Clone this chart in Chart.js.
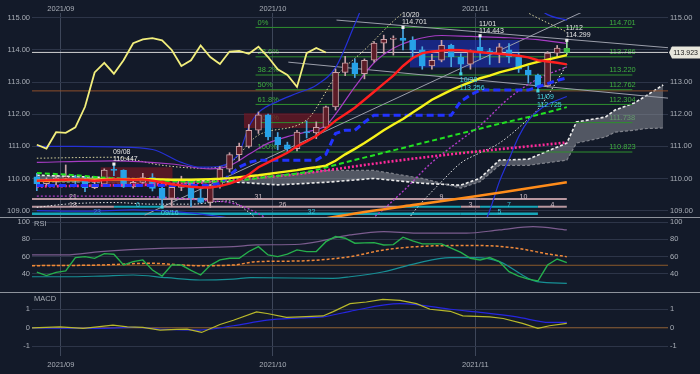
<!DOCTYPE html>
<html lang="ja">
<head>
<meta charset="UTF-8" />
<title>USD/JPY 日足</title>
<style>
  body { margin: 0; background: #131a29; }
  #wrap { position: relative; width: 700px; height: 374px; background: #131a29; overflow: hidden; }
  .pane { position: absolute; left: 0; width: 700px; }
  .pane canvas { display: block; }
  .sep { position: absolute; left: 0; width: 700px; height: 1px; background: #8e939c; }
</style>
</head>
<body>
<div id="wrap">
  <div class="pane" style="top:0;height:217px"><canvas id="mainChart" width="700" height="217"></canvas></div>
  <div class="pane" style="top:217px;height:75px"><canvas id="rsiChart" width="700" height="75"></canvas></div>
  <div class="pane" style="top:292px;height:82px"><canvas id="macdChart" width="700" height="82"></canvas></div>
  <div class="sep" style="top:217px"></div>
  <div class="sep" style="top:292px"></div>
</div>

<script src="https://cdn.jsdelivr.net/npm/chart.js"></script>
<script>
// trading days (last 10 are future slots used by the cloud)
const dates = [
  '2021/08/27', '2021/08/30', '2021/08/31',
  '2021/09/01', '2021/09/02', '2021/09/03', '2021/09/06', '2021/09/07', '2021/09/08', '2021/09/09', '2021/09/10',
  '2021/09/13', '2021/09/14', '2021/09/15', '2021/09/16', '2021/09/17', '2021/09/20', '2021/09/21', '2021/09/22',
  '2021/09/23', '2021/09/24', '2021/09/27', '2021/09/28', '2021/09/29', '2021/09/30',
  '2021/10/01', '2021/10/04', '2021/10/05', '2021/10/06', '2021/10/07', '2021/10/08', '2021/10/11', '2021/10/12',
  '2021/10/13', '2021/10/14', '2021/10/15', '2021/10/18', '2021/10/19', '2021/10/20', '2021/10/21', '2021/10/22',
  '2021/10/25', '2021/10/26', '2021/10/27', '2021/10/28', '2021/10/29',
  '2021/11/01', '2021/11/02', '2021/11/03', '2021/11/04', '2021/11/05', '2021/11/08', '2021/11/09', '2021/11/10',
  '2021/11/11', '2021/11/12', '2021/11/15', '2021/11/16', '2021/11/17', '2021/11/18', '2021/11/19', '2021/11/22',
  '2021/11/23', '2021/11/24', '2021/11/25', '2021/11/26'
];

// candles
const open = [
  110.05, 109.84, 109.91, 110.01, 110.02, 109.93, 109.71, 109.82, 110.26, 110.25,
  109.74, 109.88, 110.03, 109.69, 109.38, 109.72, 109.93, 109.40, 109.25, 109.78,
  110.29, 110.74, 111.00, 111.50, 111.98, 111.29, 111.05, 110.93, 111.44, 111.42,
  111.59, 112.23, 113.30, 113.60, 113.26, 113.68, 114.21, 114.33, 114.37, 114.30,
  114.00, 113.50, 113.68, 114.14, 113.78, 113.56, 114.08, 113.97, 113.88, 114.00,
  113.78, 113.37, 113.22, 112.88, 113.90, 114.05
];
const high = [
  110.16, 110.02, 110.11, 110.42, 110.10, 110.05, 109.90, 110.30, 110.447, 110.27,
  110.00, 110.16, 110.15, 109.73, 109.84, 110.07, 109.97, 109.70, 109.82, 110.37,
  110.80, 111.10, 111.68, 112.07, 112.00, 111.43, 111.13, 111.50, 111.79, 111.76,
  112.25, 113.41, 113.80, 113.72, 113.72, 114.26, 114.46, 114.44, 114.701, 114.41,
  114.10, 113.86, 114.30, 114.18, 113.88, 114.00, 114.443, 114.05, 114.20, 114.20,
  113.90, 113.50, 113.25, 113.95, 114.14, 114.299
];
const low = [
  109.62, 109.77, 109.80, 109.92, 109.83, 109.59, 109.68, 109.77, 110.09, 109.72,
  109.70, 109.85, 109.61, 109.11, 109.12, 109.62, 109.12, 109.23, 109.10, 109.70,
  110.20, 110.55, 110.95, 111.40, 111.20, 110.89, 110.823, 110.86, 111.26, 111.24,
  111.56, 112.13, 113.20, 113.14, 113.10, 113.62, 113.89, 113.84, 114.00, 113.78,
  113.40, 113.40, 113.63, 113.48, 113.256, 113.40, 113.70, 113.55, 113.60, 113.60,
  113.30, 112.97, 112.725, 112.85, 113.79, 113.85
];
const close = [
  109.84, 109.91, 110.01, 110.02, 109.93, 109.71, 109.82, 110.26, 110.25, 109.74,
  109.88, 110.03, 109.69, 109.38, 109.72, 109.93, 109.40, 109.25, 109.78, 110.29,
  110.74, 111.00, 111.50, 111.98, 111.29, 111.05, 110.93, 111.44, 111.42, 111.59,
  112.23, 113.30, 113.60, 113.26, 113.68, 114.21, 114.33, 114.37, 114.30, 114.00,
  113.50, 113.68, 114.14, 113.78, 113.56, 113.95, 113.97, 113.88, 114.10, 113.78,
  113.40, 113.22, 112.85, 113.90, 114.06, 113.923
];
const lastPrice = 113.923;
const lowLine = 112.725;

// moving averages, one value per candle
const redMA = [
  109.93, 109.94, 109.95, 109.96, 109.97, 109.95, 109.93, 109.95, 109.97, 109.97, 109.96, 109.97, 109.93,
  109.88, 109.82, 109.78, 109.74, 109.72, 109.72, 109.76, 109.84, 109.95,
  110.12, 110.35, 110.50, 110.65, 110.80, 111.00, 111.15, 111.32, 111.55,
  111.80, 112.00, 112.20, 112.45, 112.70, 112.95, 113.20, 113.50, 113.75, 113.90,
  113.95, 113.98, 114.00, 113.99, 113.96, 113.93, 113.90, 113.88, 113.85, 113.82, 113.77, 113.68, 113.64, 113.60, 113.55
];
const yellowMA = [
  109.93, 109.93, 109.94, 109.95, 109.95, 109.96, 109.96, 109.97, 109.97, 109.97, 109.97,
  109.98, 109.98, 109.97, 109.96, 109.96, 109.96, 109.97, 109.98, 109.99, 110.01,
  110.04, 110.07, 110.10, 110.14, 110.18, 110.22, 110.26, 110.31, 110.35, 110.40,
  110.55, 110.75, 110.92, 111.10, 111.30, 111.50, 111.68, 111.85, 112.05, 112.25,
  112.45, 112.60, 112.75, 112.88, 113.00, 113.12, 113.20, 113.30, 113.38, 113.46, 113.55, 113.63, 113.70, 113.77, 113.84
];
const kijun = [
  109.78, 109.78, 109.78, 109.78, 109.78, 109.78, 109.78, 109.78, 109.78, 109.78,
  109.78, 109.78, 109.78, 109.78, 109.78, 109.78, 109.78, 109.78, 109.78, 109.85,
  110.10, 110.35, 110.50, 110.57, 110.57, 110.57, 110.57, 110.57, 110.57, 110.57,
  110.75, 111.40, 111.50, 111.50, 111.75, 111.97, 111.97, 111.97, 111.97, 111.97,
  111.97, 111.97, 111.97, 111.97, 112.40, 112.60, 112.75, 112.75, 112.75, 112.75,
  112.75, 112.75, 112.85, 112.95, 113.05, 113.13
];
// lagging span, starts at the first slot
const chikou = [
  111.05, 110.93, 111.44, 111.42, 111.59, 112.23, 113.30, 113.60, 113.26, 113.68, 114.21,
  114.33, 114.37, 114.30, 114.00, 113.50, 113.68, 114.14, 113.78, 113.56, 113.95,
  113.97, 113.88, 114.10, 113.78, 113.40, 113.22, 112.85, 113.90, 114.06, 113.92
];

// slower lines as [slot, value]
const greenMA = [[0, 110.17], [4, 110.1], [8, 110.0], [12, 109.95], [16, 109.9], [20, 109.92], [24, 110.05],
  [28, 110.2], [32, 110.5], [36, 110.8], [40, 111.1], [44, 111.4], [48, 111.7], [52, 111.98], [55, 112.22]];
const pinkMA = [[0, 109.75], [10, 109.8], [16, 109.85], [20, 109.95], [26, 110.1], [30, 110.25], [36, 110.5],
  [42, 110.72], [46, 110.85], [50, 110.97], [55, 111.12]];
const orangeMA = [[28, 108.65], [33, 108.91], [39, 109.17], [45, 109.42], [50, 109.65], [55, 109.88]];

const bandUp3 = [[0, 111.0], [4, 111.0], [8, 110.98], [12, 110.9], [15, 110.5], [17, 110.35], [19, 110.38],
  [20, 110.5], [21, 110.8], [22, 111.6], [23, 112.05], [25, 112.4], [27, 112.65], [29, 112.9], [31, 113.45],
  [33, 114.8], [34, 115.5], [36, 116.5], [40, 117.0], [45, 116.5], [50, 115.8], [53, 115.1], [55, 114.93]];
const bandLo3 = [[0, 109.0], [5, 108.98], [10, 109.02], [15, 108.95], [18, 108.85], [20, 108.75], [22, 108.4],
  [25, 107.8], [35, 107.0], [44, 107.5], [46, 108.3], [47, 109.0], [48, 109.9], [49, 110.6], [50, 111.3],
  [51, 111.8], [52, 112.1], [53, 112.3], [55, 112.55]];
const bandUp2 = [[0, 110.5], [8, 110.55], [14, 110.45], [18, 110.3], [20, 110.4], [22, 110.75], [24, 111.1],
  [26, 111.3], [28, 111.45], [30, 111.65], [31, 112.0], [33, 112.85], [35, 113.6], [37, 114.05], [39, 114.3],
  [42, 114.45], [45, 114.42], [49, 114.38], [52, 114.32], [55, 114.2]];
const bandLo2 = [[0, 109.45], [8, 109.45], [14, 109.4], [18, 109.3], [20, 109.25], [22, 109.05], [25, 108.6],
  [30, 108.3], [34, 108.6], [35, 108.8], [38, 109.6], [41, 110.5], [44, 111.2], [46, 111.65], [49, 112.5],
  [52, 113.1], [55, 113.47]];
const bandUp1 = [[0, 110.63], [8, 110.66], [13, 110.41], [17, 110.32], [20, 110.48], [23, 111.35], [28, 111.82],
  [31, 113.16], [34, 114.0], [38, 115.15], [42, 115.8], [47, 115.9], [51, 115.15], [55, 114.56]];
const bandLo1 = [[0, 109.1], [3, 109.2], [8, 109.25], [12, 109.2], [16, 109.2], [20, 109.3], [22, 108.95],
  [24, 108.5], [38, 108.5], [39, 108.92], [42, 109.9], [44, 110.48], [46, 110.8], [48, 111.1], [51, 111.85],
  [52, 112.15], [53.6, 112.85], [55, 113.55]];

// cloud
const cloudSlots = [0, 5, 10, 15, 20, 25, 30, 35, 40, 44, 46, 48, 51, 55, 56, 59, 60, 62, 63, 65];
const spanA = [110.10, 110.05, 110.00, 109.95, 109.90, 109.80, 109.88, 110.00, 109.85, 109.79,
  110.01, 110.57, 110.60, 111.10, 111.76, 111.91, 112.13, 112.35, 112.53, 112.91];
const spanB = [109.90, 109.88, 109.85, 109.85, 109.88, 110.10, 110.25, 110.25, 110.00, 109.70,
  109.90, 110.41, 110.41, 110.57, 111.10, 111.29, 111.44, 111.50, 111.55, 111.57];

// fibonacci retracement 10/04 low -> 10/20 high
const fibPct = ['0%', '23.6%', '38.2%', '50%', '61.8%', '76.4%', '100%'];
const fibLevels = [114.701, 113.786, 113.220, 112.762, 112.304, 111.738, 110.823];
const fibFrom = 22.7, fibTo = 61.8, fibTextAt = 59.4;

// trend lines [slot0, price0, slot1, price1]
const trendLines = [[31.1, 114.93, 65.5, 114.07], [26.1, 113.62, 65.5, 112.5], [11.2, 108.86, 56.6, 115.18]];

// range boxes [slot0, slot1, top, bottom]
const boxes = [[6.6, 14.1, 110.35, 109.73], [21.5, 30.2, 112.03, 111.57], [38.7, 50.1, 114.31, 113.45]];

// high / low marks
const markSlot = [8, 13, 38, 44, 46, 52, 55];
const markPrice = [110.447, 109.11, 114.701, 113.256, 114.443, 112.725, 114.299];
const markDate = ['09/08', '09/16', '10/20', '10/28', '11/01', '11/09', '11/12'];
const markIsHigh = [true, false, true, false, true, false, true];

// day-count legs at the bottom
const legLevels = [109.36, 109.12, 108.90];
const legRow = [0, 0, 0, 0, 1, 1, 1, 1, 1, 1, 1, 2, 2, 2];
const legFrom = [-12, 8, 38, 46, -10, 8, 13, 38, 44, 46, 52, -9, 13, 44];
const legTo = [8, 38, 46, 55, 8, 13, 38, 44, 46, 52, 55, 13, 44, 52];
const legText = ['21', '31', '9', '10', '18', '6', '26', '', '3', '7', '4', '23', '32', '5'];
const legDown = [false, false, false, false, false, true, false, true, false, true, false, true, true, true];

// RSI panel
const rsi = [
  42, 38, 41.8, 43.4, 58.9, 60, 58, 63.5, 62.8, 50.3,
  54.2, 56.2, 44.5, 37.5, 50.3, 50.3, 44, 38.7, 50, 56.2,
  58.1, 58.1, 66, 71.6, 62, 60, 63, 67.8, 65.8, 66,
  77.4, 83.3, 81.4, 75.6, 76, 76.3, 73.6, 74, 82.6, 78.3,
  74.8, 74.8, 74.8, 70, 65, 58.1, 56.2, 58.9, 54.2, 42.6,
  37.5, 34, 31.7, 50.3, 57.3, 53
];
const rsiUpper = [[-0.5, 62], [3, 62], [6.6, 65.8], [13.5, 69.8], [20.4, 71.6], [22.8, 73.6], [27.3, 74.4],
  [32.5, 85.2], [36, 89.1], [39.4, 87.2], [44.6, 87.2], [48, 91], [51.5, 94.9], [55, 91]];
const rsiLower = [[-0.5, 36.7], [3, 36.7], [6.6, 37.5], [10, 38.7], [13.5, 35.6], [16.9, 32.9], [20.4, 34],
  [22.2, 35.6], [30.7, 34.9], [32.5, 36.7], [36, 42.5], [39.4, 52.3], [42.9, 58.9], [45.6, 58.9], [48, 54.2],
  [51.9, 31], [55, 29.1]];
const rsiAvg = [[-0.5, 49.5], [6.6, 50.3], [11.7, 52.3], [16.9, 49.5], [20.4, 50.3], [22.8, 54.2], [27.3, 55],
  [32.5, 60], [36, 67.8], [39.4, 71.6], [42.9, 72.8], [46.3, 72.8], [49.8, 69.8], [53.2, 62.8], [55, 60]];

// MACD panel
const macd = [[-0.5, 0], [2.4, 0.05], [4.8, -0.03], [5.8, 0.02], [7.9, 0.14], [9.4, 0.05], [11, 0.02],
  [12.8, -0.12], [14.5, -0.09], [15.6, -0.07], [17.1, -0.25], [19, 0.18], [20.4, 0.41], [22.8, 0.86],
  [23.9, 0.77], [25.9, 0.56], [27.3, 0.59], [29.7, 0.64], [30.7, 0.86], [32.5, 1.3], [34.2, 1.39],
  [35.9, 1.53], [37.7, 1.48], [39.4, 1.3], [40.8, 1.0], [42.9, 0.89], [44.2, 0.64], [47, 0.59],
  [48.4, 0.5], [50.4, 0.24], [52, -0.03], [53.2, 0.11], [55, 0.24]];
const signal = [[-0.5, 0], [6.6, -0.03], [10, 0.02], [13.5, -0.09], [16.9, -0.12], [20.4, 0.11], [23.9, 0.41],
  [27.3, 0.53], [29.7, 0.59], [32.5, 0.89], [37.7, 1.3], [39.4, 1.25], [42.9, 1.0], [46.3, 0.82],
  [49.8, 0.59], [53.2, 0.29], [55, 0.29]];

const mainTicks = [109, 110, 111, 112, 113, 114, 115];
const rsiTicks = [40, 60, 80, 100];
const macdTicks = [-1, 0, 1];

// ---------------------------------------------------------------
const FONT = '"Liberation Sans", Arial, sans-serif';
const GRID = '#2d3548';
const VGRID = '#3d4659';
const TXT = '#a9aeb7';
const X_MIN = -0.5, X_MAX = dates.length - 0.5;

// month boundaries for the vertical grid
const months = [];
for (let i = 1; i < dates.length; i++) {
  if (dates[i].slice(0, 7) !== dates[i - 1].slice(0, 7)) months.push({ value: i - 0.5, label: dates[i].slice(0, 7) });
}

const pts = arr => arr.map(([x, y]) => ({ x, y }));
const series = arr => arr.map((y, i) => ({ x: i, y }));
const flat = (x0, x1, v) => [{ x: x0, y: v }, { x: x1, y: v }];

function line(data, color, width, extra) {
  return Object.assign({
    type: 'line', data, borderColor: color, borderWidth: width,
    pointRadius: 0, fill: false, tension: 0
  }, extra);
}

function xAxis(pos, h) {
  return {
    type: 'linear', position: pos, min: X_MIN, max: X_MAX,
    offset: false, bounds: 'data', grace: 0,
    grid: { color: VGRID, drawTicks: false, offset: false },
    border: { display: false },
    ticks: { display: false },
    afterBuildTicks: s => { s.ticks = months.map(m => ({ value: m.value })); },
    afterFit: s => { s.height = h; s.paddingLeft = 0; s.paddingRight = 0; }
  };
}

function yAxis(pos, min, max, values, fmt) {
  return {
    type: 'linear', position: pos, min, max, beginAtZero: false,
    grid: { color: GRID, drawTicks: false, display: pos === 'left' },
    border: { display: false },
    ticks: { color: TXT, font: { size: 7.5, family: FONT }, padding: 2, callback: v => fmt(v) },
    afterBuildTicks: s => { s.ticks = values.map(v => ({ value: v })); },
    afterFit: s => { s.width = 32; s.paddingTop = 0; s.paddingBottom = 0; }
  };
}

function baseOptions(scales) {
  return {
    responsive: false, animation: false, events: [],
    layout: { padding: 0, autoPadding: false },
    plugins: { legend: { display: false }, tooltip: { enabled: false } },
    scales
  };
}

function monthText(ctx, x, yPos) {
  ctx.save();
  ctx.font = '7.5px ' + FONT;
  ctx.fillStyle = TXT;
  ctx.textAlign = 'center';
  ctx.textBaseline = 'middle';
  months.forEach(m => ctx.fillText(m.label, x.getPixelForValue(m.value), yPos));
  ctx.restore();
}

// ---- main price pane ----
const last = close.length - 1;
const up = close.map((c, i) => c >= open[i]);
const bodyFill = close.map((c, i) => i === last ? '#3dbb48' : up[i] ? '#5c1c27' : '#27a2e8');
const bodyEdge = close.map((c, i) => i === last ? '#3dbb48' : up[i] ? '#c9a2a8' : '#27a2e8');
const wickColor = close.map((c, i) => i === last ? '#9ad89f' : up[i] ? '#c9a2a8' : '#4aa6e0');

const mainSets = [];
// marks on top
mainSets.push({
  type: 'scatter', order: 0,
  data: markSlot.map((s, i) => ({ x: s, y: markPrice[i] })),
  pointStyle: 'rect', pointRadius: 2.2, borderWidth: 0,
  backgroundColor: markIsHigh.map(h => h ? '#f0f0f0' : '#45d3e0')
});
mainSets.push(line(series(chikou), '#f2ee7c', 1.8, { order: 1 }));
mainSets.push(line(series(redMA), '#ff1f1f', 2.4, { order: 2 }));
mainSets.push(line(series(yellowMA), '#f7f21a', 2.4, { order: 2 }));
mainSets.push(line(series(kijun), '#2233ff', 3, { order: 3, borderDash: [7, 4] }));
mainSets.push(line(pts(greenMA), '#22e022', 2, { order: 3, borderDash: [5, 3], cubicInterpolationMode: 'monotone' }));
mainSets.push(line(pts(pinkMA), '#ff2a9a', 2.6, { order: 3, borderDash: [2, 2], cubicInterpolationMode: 'monotone' }));
mainSets.push(line(pts(orangeMA), '#ff8c1a', 2.6, { order: 3, cubicInterpolationMode: 'monotone' }));
// candles
mainSets.push({
  type: 'bar', order: 4, grouped: false, barThickness: 6, minBarLength: 1,
  data: close.map((c, i) => ({ x: i, y: [open[i], c] })),
  backgroundColor: bodyFill, borderColor: bodyEdge, borderWidth: 1, borderSkipped: false
});
mainSets.push({
  type: 'bar', order: 5, grouped: false, barThickness: 1,
  data: close.map((c, i) => ({ x: i, y: [low[i], high[i]] })),
  backgroundColor: wickColor
});
// bands
mainSets.push(line(pts(bandUp3), '#2531d8', 1.2, { order: 6, cubicInterpolationMode: 'monotone' }));
mainSets.push(line(pts(bandLo3), '#2531d8', 1.2, { order: 6, cubicInterpolationMode: 'monotone' }));
mainSets.push(line(pts(bandUp2), '#a63cc4', 1.2, { order: 6, cubicInterpolationMode: 'monotone' }));
mainSets.push(line(pts(bandLo2), '#b03cc8', 1.4, { order: 6, borderDash: [2, 2], cubicInterpolationMode: 'monotone' }));
mainSets.push(line(pts(bandUp1), '#dcd7a0', 1, { order: 6, borderDash: [1.5, 2], cubicInterpolationMode: 'monotone' }));
mainSets.push(line(pts(bandLo1), '#e6e6e6', 1, { order: 6, borderDash: [1.5, 2], cubicInterpolationMode: 'monotone' }));
// trend lines
trendLines.forEach(t => {
  mainSets.push(line([{ x: t[0], y: t[1] }, { x: t[2], y: t[3] }], '#9c9fab', 1, { order: 7 }));
});
// fibonacci
fibLevels.forEach(v => mainSets.push(line(flat(fibFrom, fibTo, v), '#2f8f2f', 1, { order: 8 })));
// horizontal price lines
mainSets.push(line(flat(X_MIN, X_MAX, lastPrice), '#d4d4d4', 1, { order: 8 }));
mainSets.push(line(flat(X_MIN, X_MAX, lowLine), '#8e4f2a', 1, { order: 8 }));
// day-count legs
legRow.forEach((r, i) => {
  const cyan = r === 2 || (r === 1 && legDown[i]);
  mainSets.push(line(flat(legFrom[i], legTo[i], legLevels[r]), cyan ? '#17a6b8' : '#b8979f', r === 2 ? 2.6 : 2, { order: 8 }));
});
// boxes
boxes.forEach((b, i) => {
  mainSets.push(line(flat(b[0], b[1], b[2]), 'rgba(0,0,0,0)', 0, {
    order: 9, fill: { value: b[3] },
    backgroundColor: i === 2 ? 'rgba(28,48,190,0.6)' : 'rgba(112,24,36,0.72)'
  }));
});
// cloud
mainSets.push(line(cloudSlots.map((s, i) => ({ x: s, y: spanB[i] })), '#80838c', 1.2, { order: 10, borderDash: [3, 2] }));
mainSets.push(line(cloudSlots.map((s, i) => ({ x: s, y: spanA[i] })), '#ececec', 1.6, {
  order: 10, borderDash: [3, 2], fill: '-1', backgroundColor: 'rgba(135,139,148,0.55)'
}));

const mainText = {
  id: 'mainText',
  beforeDatasetsDraw(chart) {
    const { ctx, scales: { x, y } } = chart;
    ctx.save();
    ctx.font = '7.5px ' + FONT;
    ctx.fillStyle = '#3fae3f';
    ctx.textAlign = 'left';
    ctx.textBaseline = 'bottom';
    fibLevels.forEach((v, i) => {
      const py = y.getPixelForValue(v) - 1;
      ctx.fillText(fibPct[i], x.getPixelForValue(fibFrom) + 2, py);
      ctx.fillText(v.toFixed(3), x.getPixelForValue(fibTextAt), py);
    });
    ctx.restore();
  },
  afterDatasetsDraw(chart) {
    const { ctx, scales: { x, y } } = chart;
    ctx.save();
    ctx.font = '7px ' + FONT;
    ctx.textBaseline = 'middle';

    // leg counts, centred on the visible part
    ctx.textAlign = 'center';
    legRow.forEach((r, i) => {
      if (!legText[i]) return;
      const a = Math.max(legFrom[i], X_MIN), b = Math.min(legTo[i], X_MAX);
      const cyan = r === 2 || (r === 1 && legDown[i]);
      ctx.fillStyle = cyan ? (i === 11 ? '#3b86d8' : '#3cc0d6') : '#cdbbc3';
      ctx.fillText(legText[i], x.getPixelForValue((a + b) / 2), y.getPixelForValue(legLevels[r]) - 2);
    });

    // high / low labels
    ctx.textAlign = 'left';
    markSlot.forEach((s, i) => {
      const px = x.getPixelForValue(s) - 1;
      const py = y.getPixelForValue(markPrice[i]);
      if (markIsHigh[i]) {
        ctx.fillStyle = '#e4e4e4';
        ctx.fillText(markDate[i], px, py - 12);
        ctx.fillText(markPrice[i].toFixed(3), px, py - 5);
      } else {
        ctx.fillStyle = '#45d3e0';
        ctx.fillText(markDate[i], px, py + 6);
        ctx.fillText(markPrice[i].toFixed(3), px, py + 14);
      }
    });
    ctx.restore();

    // current price tag on the right axis
    const ty = y.getPixelForValue(lastPrice);
    const tx = chart.chartArea.right + 1;
    ctx.save();
    ctx.fillStyle = '#e7e6dc';
    ctx.beginPath();
    ctx.moveTo(tx, ty);
    ctx.lineTo(tx + 3, ty - 6);
    ctx.lineTo(700, ty - 6);
    ctx.lineTo(700, ty + 6);
    ctx.lineTo(tx + 3, ty + 6);
    ctx.closePath();
    ctx.fill();
    ctx.fillStyle = '#1a1a1a';
    ctx.font = '7px ' + FONT;
    ctx.textAlign = 'right';
    ctx.textBaseline = 'middle';
    ctx.fillText(lastPrice.toFixed(3), 698, ty + 0.5);
    ctx.restore();

    monthText(ctx, x, 9);
  }
};

new Chart(document.getElementById('mainChart'), {
  type: 'line',
  data: { datasets: mainSets },
  options: baseOptions({
    x: xAxis('top', 13),
    y: yAxis('left', 108.8, 115.15, mainTicks, v => v.toFixed(2)),
    yR: yAxis('right', 108.8, 115.15, mainTicks, v => v.toFixed(2))
  }),
  plugins: [mainText]
});

// ---- RSI pane ----
const paneTitle = title => ({
  id: 'title' + title,
  afterDraw(chart) {
    const ctx = chart.ctx;
    ctx.save();
    ctx.font = '7.5px ' + FONT;
    ctx.fillStyle = TXT;
    ctx.textBaseline = 'middle';
    ctx.fillText(title, chart.chartArea.left + 2, 7);
    ctx.restore();
  }
});

new Chart(document.getElementById('rsiChart'), {
  type: 'line',
  data: {
    datasets: [
      line(series(rsi), '#26b04c', 1.4, { order: 0 }),
      line(pts(rsiAvg), '#f0893a', 1.5, { order: 1, borderDash: [3, 2], cubicInterpolationMode: 'monotone' }),
      line(pts(rsiUpper), '#7b5c8e', 1.2, { order: 2, cubicInterpolationMode: 'monotone' }),
      line(pts(rsiLower), '#178f95', 1.2, { order: 2, cubicInterpolationMode: 'monotone' }),
      line(flat(X_MIN, X_MAX, 50), '#8b5a2b', 1, { order: 3 })
    ]
  },
  options: baseOptions({
    x: xAxis('bottom', 0),
    y: yAxis('left', 19, 106, rsiTicks, v => String(v)),
    yR: yAxis('right', 19, 106, rsiTicks, v => String(v))
  }),
  plugins: [paneTitle('RSI')]
});

// ---- MACD pane ----
new Chart(document.getElementById('macdChart'), {
  type: 'line',
  data: {
    datasets: [
      line(pts(macd), '#b9b92a', 1.2, { order: 0 }),
      line(pts(signal), '#2626e0', 1.2, { order: 1, cubicInterpolationMode: 'monotone' }),
      line(flat(X_MIN, X_MAX, 0), '#8b5a2b', 1, { order: 2 })
    ]
  },
  options: baseOptions({
    x: xAxis('bottom', 18),
    y: yAxis('left', -1.52, 1.93, macdTicks, v => String(v)),
    yR: yAxis('right', -1.52, 1.93, macdTicks, v => String(v))
  }),
  plugins: [paneTitle('MACD'), {
    id: 'macdMonths',
    afterDraw(chart) { monthText(chart.ctx, chart.scales.x, 73); }
  }]
});
</script>
</body>
</html>
